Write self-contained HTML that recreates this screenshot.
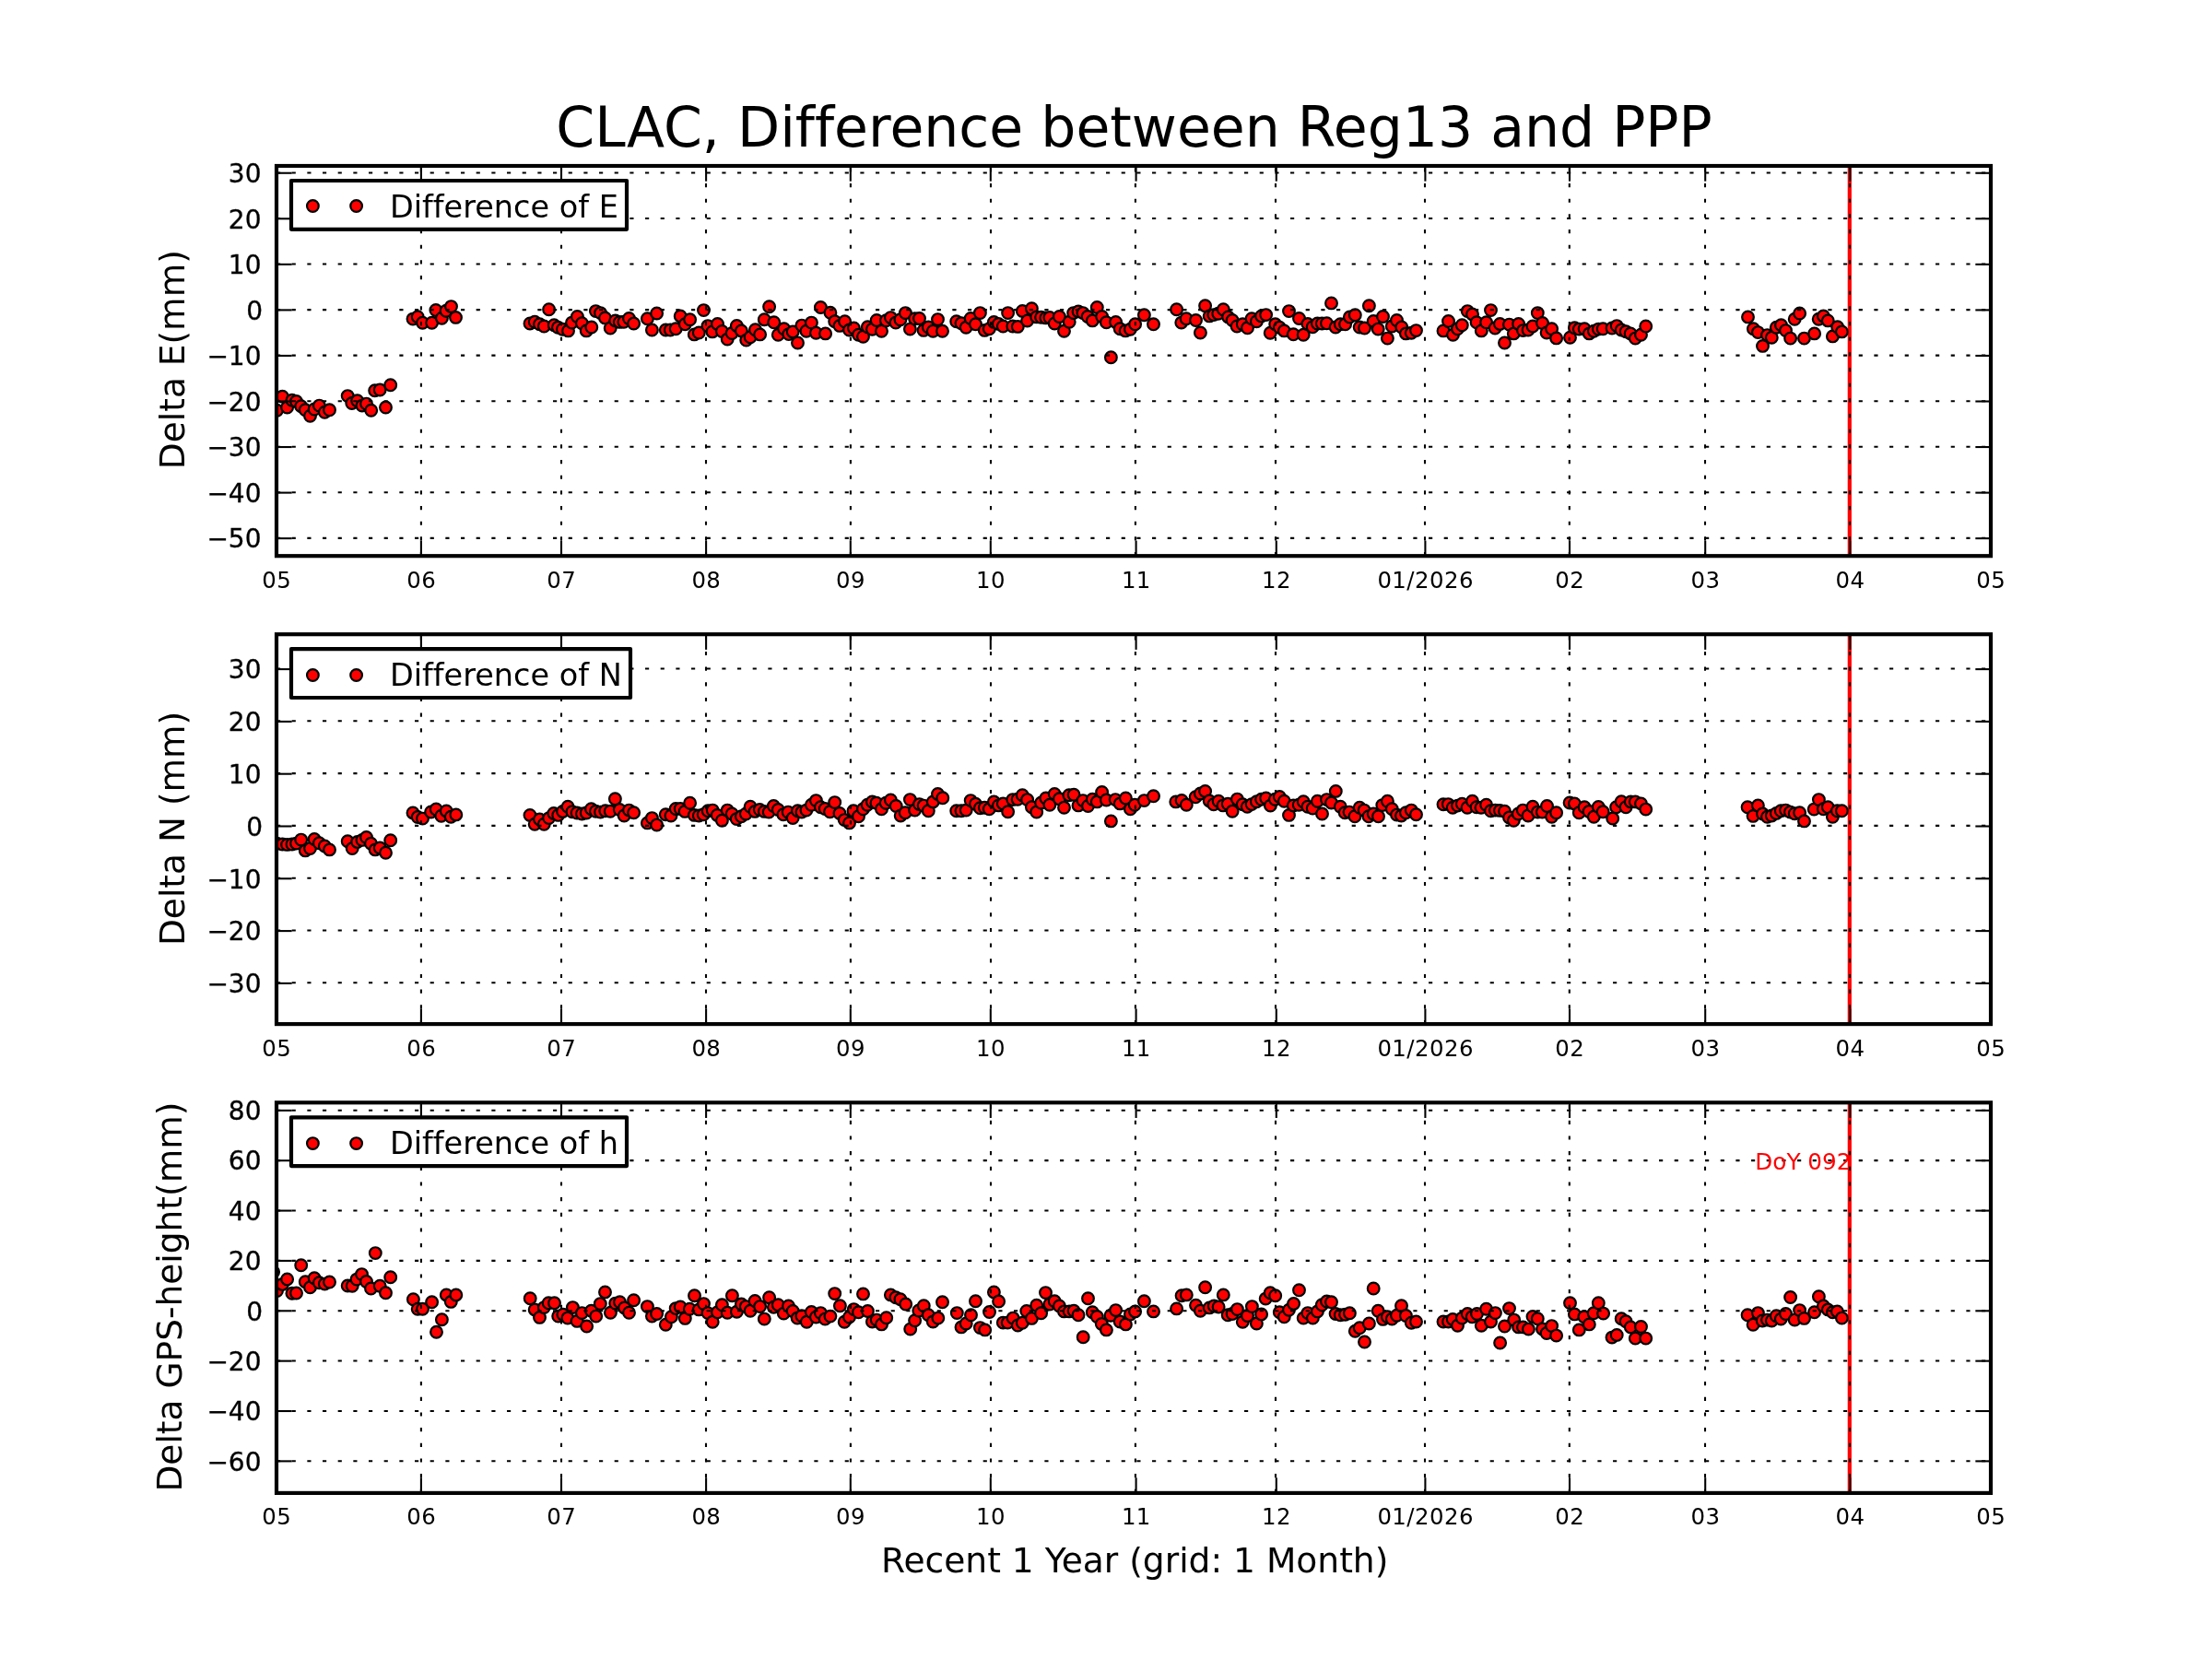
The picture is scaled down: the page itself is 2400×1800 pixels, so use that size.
<!DOCTYPE html>
<html lang="en"><head><meta charset="utf-8"><title>CLAC, Difference between Reg13 and PPP</title>
<style>html,body{margin:0;padding:0;background:#fff}svg{display:block;will-change:transform}text{font-variant-ligatures:none;font-feature-settings:"liga" 0,"clig" 0;font-kerning:normal}</style></head>
<body>
<svg width="2400" height="1800" viewBox="0 0 2400 1800" font-family="DejaVu Sans, Liberation Sans, sans-serif">
<rect width="2400" height="1800" fill="#fff"/>
<defs>
<clipPath id="c0"><rect x="300.0" y="180.0" width="1860.0" height="423.20"/></clipPath>
<clipPath id="c1"><rect x="300.0" y="688.2" width="1860.0" height="422.90"/></clipPath>
<clipPath id="c2"><rect x="300.0" y="1196.3" width="1860.0" height="423.60"/></clipPath>
</defs>
<g id="panel1">
<g clip-path="url(#c0)">
<line x1="2006.8" y1="180.0" x2="2006.8" y2="603.2" stroke="#f00" stroke-width="4.17"/>
<g fill="#f00" stroke="#000" stroke-width="2.20">
<circle cx="300.5" cy="445.3" r="6.35"/>
<circle cx="306.4" cy="430.2" r="6.35"/>
<circle cx="311.6" cy="442.0" r="6.35"/>
<circle cx="316.9" cy="434.2" r="6.35"/>
<circle cx="321.5" cy="435.5" r="6.35"/>
<circle cx="326.7" cy="440.7" r="6.35"/>
<circle cx="331.3" cy="444.7" r="6.35"/>
<circle cx="336.5" cy="451.2" r="6.35"/>
<circle cx="341.1" cy="444.0" r="6.35"/>
<circle cx="346.4" cy="440.1" r="6.35"/>
<circle cx="352.3" cy="447.3" r="6.35"/>
<circle cx="357.5" cy="444.7" r="6.35"/>
<circle cx="377.2" cy="429.6" r="6.35"/>
<circle cx="381.8" cy="437.5" r="6.35"/>
<circle cx="387.7" cy="434.8" r="6.35"/>
<circle cx="392.9" cy="440.1" r="6.35"/>
<circle cx="397.5" cy="438.1" r="6.35"/>
<circle cx="402.7" cy="445.3" r="6.35"/>
<circle cx="406.7" cy="423.7" r="6.35"/>
<circle cx="412.2" cy="423.0" r="6.35"/>
<circle cx="418.5" cy="442.0" r="6.35"/>
<circle cx="423.7" cy="417.8" r="6.35"/>
<circle cx="448.0" cy="346.1" r="6.35"/>
<circle cx="453.2" cy="343.7" r="6.35"/>
<circle cx="458.5" cy="350.3" r="6.35"/>
<circle cx="468.6" cy="350.3" r="6.35"/>
<circle cx="472.9" cy="336.5" r="6.35"/>
<circle cx="479.4" cy="345.3" r="6.35"/>
<circle cx="484.0" cy="337.2" r="6.35"/>
<circle cx="489.5" cy="332.6" r="6.35"/>
<circle cx="494.5" cy="344.4" r="6.35"/>
<circle cx="575.0" cy="351.0" r="6.35"/>
<circle cx="580.2" cy="349.2" r="6.35"/>
<circle cx="585.5" cy="351.8" r="6.35"/>
<circle cx="590.3" cy="354.0" r="6.35"/>
<circle cx="595.6" cy="335.7" r="6.35"/>
<circle cx="601.2" cy="352.7" r="6.35"/>
<circle cx="605.4" cy="355.3" r="6.35"/>
<circle cx="610.4" cy="357.3" r="6.35"/>
<circle cx="616.5" cy="358.9" r="6.35"/>
<circle cx="620.5" cy="350.1" r="6.35"/>
<circle cx="626.4" cy="343.5" r="6.35"/>
<circle cx="631.4" cy="350.8" r="6.35"/>
<circle cx="636.2" cy="358.9" r="6.35"/>
<circle cx="641.8" cy="355.0" r="6.35"/>
<circle cx="646.4" cy="337.6" r="6.35"/>
<circle cx="651.5" cy="339.6" r="6.35"/>
<circle cx="656.5" cy="344.9" r="6.35"/>
<circle cx="662.2" cy="356.0" r="6.35"/>
<circle cx="667.7" cy="347.9" r="6.35"/>
<circle cx="672.3" cy="349.4" r="6.35"/>
<circle cx="676.8" cy="349.2" r="6.35"/>
<circle cx="682.5" cy="345.5" r="6.35"/>
<circle cx="687.6" cy="351.0" r="6.35"/>
<circle cx="702.4" cy="345.8" r="6.35"/>
<circle cx="707.4" cy="358.0" r="6.35"/>
<circle cx="712.6" cy="340.0" r="6.35"/>
<circle cx="722.3" cy="358.0" r="6.35"/>
<circle cx="727.3" cy="358.0" r="6.35"/>
<circle cx="733.2" cy="356.7" r="6.35"/>
<circle cx="738.2" cy="342.9" r="6.35"/>
<circle cx="743.3" cy="351.8" r="6.35"/>
<circle cx="748.6" cy="346.8" r="6.35"/>
<circle cx="753.3" cy="362.9" r="6.35"/>
<circle cx="758.3" cy="361.0" r="6.35"/>
<circle cx="763.5" cy="336.6" r="6.35"/>
<circle cx="768.0" cy="353.6" r="6.35"/>
<circle cx="772.9" cy="359.9" r="6.35"/>
<circle cx="778.5" cy="351.4" r="6.35"/>
<circle cx="783.4" cy="359.5" r="6.35"/>
<circle cx="789.2" cy="368.1" r="6.35"/>
<circle cx="794.2" cy="361.5" r="6.35"/>
<circle cx="799.4" cy="353.4" r="6.35"/>
<circle cx="804.4" cy="358.9" r="6.35"/>
<circle cx="809.7" cy="369.1" r="6.35"/>
<circle cx="814.1" cy="365.8" r="6.35"/>
<circle cx="819.5" cy="357.7" r="6.35"/>
<circle cx="824.6" cy="362.9" r="6.35"/>
<circle cx="829.3" cy="346.8" r="6.35"/>
<circle cx="834.6" cy="332.8" r="6.35"/>
<circle cx="839.7" cy="349.7" r="6.35"/>
<circle cx="844.3" cy="363.2" r="6.35"/>
<circle cx="850.6" cy="356.7" r="6.35"/>
<circle cx="855.8" cy="362.6" r="6.35"/>
<circle cx="860.2" cy="359.9" r="6.35"/>
<circle cx="865.5" cy="372.0" r="6.35"/>
<circle cx="869.9" cy="353.1" r="6.35"/>
<circle cx="874.9" cy="359.3" r="6.35"/>
<circle cx="880.4" cy="350.1" r="6.35"/>
<circle cx="885.4" cy="361.2" r="6.35"/>
<circle cx="890.4" cy="333.5" r="6.35"/>
<circle cx="895.6" cy="361.9" r="6.35"/>
<circle cx="900.9" cy="339.2" r="6.35"/>
<circle cx="905.7" cy="348.8" r="6.35"/>
<circle cx="911.0" cy="353.4" r="6.35"/>
<circle cx="916.6" cy="348.8" r="6.35"/>
<circle cx="921.5" cy="358.0" r="6.35"/>
<circle cx="926.4" cy="356.0" r="6.35"/>
<circle cx="931.5" cy="363.2" r="6.35"/>
<circle cx="936.5" cy="365.2" r="6.35"/>
<circle cx="941.4" cy="354.7" r="6.35"/>
<circle cx="946.4" cy="357.3" r="6.35"/>
<circle cx="951.2" cy="347.5" r="6.35"/>
<circle cx="956.5" cy="359.3" r="6.35"/>
<circle cx="961.4" cy="347.7" r="6.35"/>
<circle cx="966.4" cy="344.6" r="6.35"/>
<circle cx="971.9" cy="350.1" r="6.35"/>
<circle cx="976.9" cy="346.8" r="6.35"/>
<circle cx="982.4" cy="339.6" r="6.35"/>
<circle cx="987.4" cy="357.1" r="6.35"/>
<circle cx="992.6" cy="345.8" r="6.35"/>
<circle cx="997.5" cy="345.5" r="6.35"/>
<circle cx="1002.1" cy="358.4" r="6.35"/>
<circle cx="1007.3" cy="355.0" r="6.35"/>
<circle cx="1012.3" cy="359.3" r="6.35"/>
<circle cx="1017.5" cy="346.6" r="6.35"/>
<circle cx="1022.5" cy="359.3" r="6.35"/>
<circle cx="1037.7" cy="348.8" r="6.35"/>
<circle cx="1043.0" cy="350.8" r="6.35"/>
<circle cx="1048.2" cy="355.3" r="6.35"/>
<circle cx="1053.2" cy="345.5" r="6.35"/>
<circle cx="1058.5" cy="351.8" r="6.35"/>
<circle cx="1063.4" cy="339.6" r="6.35"/>
<circle cx="1068.3" cy="358.4" r="6.35"/>
<circle cx="1073.3" cy="356.7" r="6.35"/>
<circle cx="1078.4" cy="349.4" r="6.35"/>
<circle cx="1083.4" cy="351.4" r="6.35"/>
<circle cx="1088.3" cy="354.0" r="6.35"/>
<circle cx="1093.6" cy="339.6" r="6.35"/>
<circle cx="1098.8" cy="354.0" r="6.35"/>
<circle cx="1104.3" cy="354.4" r="6.35"/>
<circle cx="1109.3" cy="337.4" r="6.35"/>
<circle cx="1114.6" cy="348.1" r="6.35"/>
<circle cx="1119.4" cy="334.8" r="6.35"/>
<circle cx="1124.7" cy="343.9" r="6.35"/>
<circle cx="1129.6" cy="344.2" r="6.35"/>
<circle cx="1134.8" cy="344.9" r="6.35"/>
<circle cx="1138.9" cy="344.5" r="6.35"/>
<circle cx="1144.2" cy="351.0" r="6.35"/>
<circle cx="1149.4" cy="343.5" r="6.35"/>
<circle cx="1154.5" cy="359.3" r="6.35"/>
<circle cx="1160.2" cy="349.2" r="6.35"/>
<circle cx="1164.7" cy="339.6" r="6.35"/>
<circle cx="1170.0" cy="337.9" r="6.35"/>
<circle cx="1175.0" cy="339.6" r="6.35"/>
<circle cx="1180.1" cy="343.5" r="6.35"/>
<circle cx="1185.3" cy="347.9" r="6.35"/>
<circle cx="1190.3" cy="333.5" r="6.35"/>
<circle cx="1195.6" cy="343.5" r="6.35"/>
<circle cx="1200.4" cy="349.8" r="6.35"/>
<circle cx="1205.4" cy="387.7" r="6.35"/>
<circle cx="1210.6" cy="349.4" r="6.35"/>
<circle cx="1215.2" cy="356.7" r="6.35"/>
<circle cx="1221.1" cy="358.9" r="6.35"/>
<circle cx="1226.4" cy="357.3" r="6.35"/>
<circle cx="1231.6" cy="351.8" r="6.35"/>
<circle cx="1241.4" cy="341.8" r="6.35"/>
<circle cx="1251.5" cy="351.8" r="6.35"/>
<circle cx="1276.6" cy="335.7" r="6.35"/>
<circle cx="1281.8" cy="350.1" r="6.35"/>
<circle cx="1287.1" cy="345.8" r="6.35"/>
<circle cx="1297.5" cy="347.5" r="6.35"/>
<circle cx="1302.4" cy="361.0" r="6.35"/>
<circle cx="1307.6" cy="331.7" r="6.35"/>
<circle cx="1312.2" cy="342.9" r="6.35"/>
<circle cx="1316.8" cy="341.6" r="6.35"/>
<circle cx="1321.7" cy="340.3" r="6.35"/>
<circle cx="1327.3" cy="335.7" r="6.35"/>
<circle cx="1332.6" cy="343.9" r="6.35"/>
<circle cx="1337.1" cy="347.5" r="6.35"/>
<circle cx="1342.1" cy="354.0" r="6.35"/>
<circle cx="1348.3" cy="351.8" r="6.35"/>
<circle cx="1353.5" cy="355.7" r="6.35"/>
<circle cx="1358.1" cy="345.8" r="6.35"/>
<circle cx="1363.4" cy="348.8" r="6.35"/>
<circle cx="1368.6" cy="342.9" r="6.35"/>
<circle cx="1373.6" cy="341.6" r="6.35"/>
<circle cx="1378.2" cy="361.2" r="6.35"/>
<circle cx="1383.7" cy="351.8" r="6.35"/>
<circle cx="1388.3" cy="355.3" r="6.35"/>
<circle cx="1393.3" cy="358.9" r="6.35"/>
<circle cx="1398.5" cy="337.6" r="6.35"/>
<circle cx="1403.3" cy="362.8" r="6.35"/>
<circle cx="1409.5" cy="345.5" r="6.35"/>
<circle cx="1414.2" cy="363.2" r="6.35"/>
<circle cx="1418.9" cy="351.4" r="6.35"/>
<circle cx="1424.2" cy="354.7" r="6.35"/>
<circle cx="1429.4" cy="351.0" r="6.35"/>
<circle cx="1434.3" cy="351.0" r="6.35"/>
<circle cx="1439.5" cy="350.8" r="6.35"/>
<circle cx="1444.5" cy="328.9" r="6.35"/>
<circle cx="1449.1" cy="355.0" r="6.35"/>
<circle cx="1454.3" cy="351.8" r="6.35"/>
<circle cx="1459.6" cy="351.8" r="6.35"/>
<circle cx="1464.4" cy="343.9" r="6.35"/>
<circle cx="1470.3" cy="341.8" r="6.35"/>
<circle cx="1475.2" cy="355.0" r="6.35"/>
<circle cx="1480.5" cy="356.0" r="6.35"/>
<circle cx="1485.4" cy="331.7" r="6.35"/>
<circle cx="1490.2" cy="348.4" r="6.35"/>
<circle cx="1495.2" cy="357.1" r="6.35"/>
<circle cx="1500.5" cy="343.5" r="6.35"/>
<circle cx="1505.4" cy="367.1" r="6.35"/>
<circle cx="1510.3" cy="354.0" r="6.35"/>
<circle cx="1515.5" cy="347.5" r="6.35"/>
<circle cx="1520.8" cy="355.0" r="6.35"/>
<circle cx="1525.4" cy="361.9" r="6.35"/>
<circle cx="1531.3" cy="361.2" r="6.35"/>
<circle cx="1536.5" cy="358.6" r="6.35"/>
<circle cx="1566.0" cy="358.9" r="6.35"/>
<circle cx="1571.5" cy="348.4" r="6.35"/>
<circle cx="1576.5" cy="363.2" r="6.35"/>
<circle cx="1581.5" cy="356.7" r="6.35"/>
<circle cx="1586.3" cy="352.7" r="6.35"/>
<circle cx="1592.2" cy="337.6" r="6.35"/>
<circle cx="1597.5" cy="340.9" r="6.35"/>
<circle cx="1602.1" cy="349.7" r="6.35"/>
<circle cx="1607.3" cy="358.9" r="6.35"/>
<circle cx="1612.6" cy="349.7" r="6.35"/>
<circle cx="1617.5" cy="336.6" r="6.35"/>
<circle cx="1622.1" cy="356.0" r="6.35"/>
<circle cx="1627.4" cy="351.4" r="6.35"/>
<circle cx="1632.5" cy="372.0" r="6.35"/>
<circle cx="1637.5" cy="352.1" r="6.35"/>
<circle cx="1642.3" cy="361.9" r="6.35"/>
<circle cx="1647.6" cy="351.4" r="6.35"/>
<circle cx="1652.5" cy="358.6" r="6.35"/>
<circle cx="1658.0" cy="358.0" r="6.35"/>
<circle cx="1663.0" cy="354.0" r="6.35"/>
<circle cx="1668.3" cy="339.6" r="6.35"/>
<circle cx="1673.5" cy="350.5" r="6.35"/>
<circle cx="1678.1" cy="361.0" r="6.35"/>
<circle cx="1683.6" cy="356.7" r="6.35"/>
<circle cx="1688.6" cy="366.9" r="6.35"/>
<circle cx="1703.5" cy="366.2" r="6.35"/>
<circle cx="1708.4" cy="355.7" r="6.35"/>
<circle cx="1713.3" cy="357.1" r="6.35"/>
<circle cx="1719.1" cy="356.7" r="6.35"/>
<circle cx="1724.3" cy="361.9" r="6.35"/>
<circle cx="1729.3" cy="359.3" r="6.35"/>
<circle cx="1734.3" cy="357.1" r="6.35"/>
<circle cx="1739.2" cy="356.7" r="6.35"/>
<circle cx="1749.0" cy="356.0" r="6.35"/>
<circle cx="1754.2" cy="353.6" r="6.35"/>
<circle cx="1759.2" cy="358.0" r="6.35"/>
<circle cx="1764.1" cy="359.7" r="6.35"/>
<circle cx="1769.1" cy="361.9" r="6.35"/>
<circle cx="1774.3" cy="367.1" r="6.35"/>
<circle cx="1780.5" cy="363.2" r="6.35"/>
<circle cx="1785.7" cy="354.0" r="6.35"/>
<circle cx="1896.5" cy="343.9" r="6.35"/>
<circle cx="1902.4" cy="356.7" r="6.35"/>
<circle cx="1907.4" cy="360.6" r="6.35"/>
<circle cx="1912.5" cy="375.4" r="6.35"/>
<circle cx="1917.5" cy="363.6" r="6.35"/>
<circle cx="1922.3" cy="366.2" r="6.35"/>
<circle cx="1927.3" cy="355.3" r="6.35"/>
<circle cx="1932.5" cy="352.7" r="6.35"/>
<circle cx="1937.5" cy="358.6" r="6.35"/>
<circle cx="1942.6" cy="367.1" r="6.35"/>
<circle cx="1947.2" cy="346.2" r="6.35"/>
<circle cx="1952.6" cy="340.0" r="6.35"/>
<circle cx="1957.5" cy="367.1" r="6.35"/>
<circle cx="1968.6" cy="361.9" r="6.35"/>
<circle cx="1973.2" cy="346.2" r="6.35"/>
<circle cx="1978.4" cy="342.9" r="6.35"/>
<circle cx="1983.3" cy="347.9" r="6.35"/>
<circle cx="1988.4" cy="364.9" r="6.35"/>
<circle cx="1993.7" cy="354.7" r="6.35"/>
<circle cx="1998.4" cy="359.9" r="6.35"/>
</g>
<g stroke="#000" stroke-width="2.08" stroke-dasharray="4.167 12.500" fill="none">
<line x1="300" y1="603.2" x2="300" y2="180.0"/>
<line x1="456.9" y1="603.2" x2="456.9" y2="180.0"/>
<line x1="609.0" y1="603.2" x2="609.0" y2="180.0"/>
<line x1="766.0" y1="603.2" x2="766.0" y2="180.0"/>
<line x1="922.9" y1="603.2" x2="922.9" y2="180.0"/>
<line x1="1075.0" y1="603.2" x2="1075.0" y2="180.0"/>
<line x1="1231.9" y1="603.2" x2="1231.9" y2="180.0"/>
<line x1="1384.0" y1="603.2" x2="1384.0" y2="180.0"/>
<line x1="1546.0" y1="603.2" x2="1546.0" y2="180.0"/>
<line x1="1702.8" y1="603.2" x2="1702.8" y2="180.0"/>
<line x1="1850.0" y1="603.2" x2="1850.0" y2="180.0"/>
<line x1="2007.0" y1="603.2" x2="2007.0" y2="180.0"/>
<line x1="2160" y1="603.2" x2="2160" y2="180.0"/>
<line x1="300.0" y1="187.45" x2="2160.0" y2="187.45"/>
<line x1="300.0" y1="237.00" x2="2160.0" y2="237.00"/>
<line x1="300.0" y1="286.55" x2="2160.0" y2="286.55"/>
<line x1="300.0" y1="336.10" x2="2160.0" y2="336.10"/>
<line x1="300.0" y1="385.65" x2="2160.0" y2="385.65"/>
<line x1="300.0" y1="435.20" x2="2160.0" y2="435.20"/>
<line x1="300.0" y1="484.75" x2="2160.0" y2="484.75"/>
<line x1="300.0" y1="534.30" x2="2160.0" y2="534.30"/>
<line x1="300.0" y1="583.85" x2="2160.0" y2="583.85"/>
</g>
</g>
<g stroke="#000" stroke-width="2.08">
<line x1="300" y1="603.2" x2="300" y2="586.53"/>
<line x1="300" y1="180.0" x2="300" y2="196.67"/>
<line x1="456.9" y1="603.2" x2="456.9" y2="586.53"/>
<line x1="456.9" y1="180.0" x2="456.9" y2="196.67"/>
<line x1="609.0" y1="603.2" x2="609.0" y2="586.53"/>
<line x1="609.0" y1="180.0" x2="609.0" y2="196.67"/>
<line x1="766.1" y1="603.2" x2="766.1" y2="586.53"/>
<line x1="766.1" y1="180.0" x2="766.1" y2="196.67"/>
<line x1="922.8" y1="603.2" x2="922.8" y2="586.53"/>
<line x1="922.8" y1="180.0" x2="922.8" y2="196.67"/>
<line x1="1074.8" y1="603.2" x2="1074.8" y2="586.53"/>
<line x1="1074.8" y1="180.0" x2="1074.8" y2="196.67"/>
<line x1="1232.6" y1="603.2" x2="1232.6" y2="586.53"/>
<line x1="1232.6" y1="180.0" x2="1232.6" y2="196.67"/>
<line x1="1384.8" y1="603.2" x2="1384.8" y2="586.53"/>
<line x1="1384.8" y1="180.0" x2="1384.8" y2="196.67"/>
<line x1="1546.4" y1="603.2" x2="1546.4" y2="586.53"/>
<line x1="1546.4" y1="180.0" x2="1546.4" y2="196.67"/>
<line x1="1703.0" y1="603.2" x2="1703.0" y2="586.53"/>
<line x1="1703.0" y1="180.0" x2="1703.0" y2="196.67"/>
<line x1="1850.2" y1="603.2" x2="1850.2" y2="586.53"/>
<line x1="1850.2" y1="180.0" x2="1850.2" y2="196.67"/>
<line x1="2007.3" y1="603.2" x2="2007.3" y2="586.53"/>
<line x1="2007.3" y1="180.0" x2="2007.3" y2="196.67"/>
<line x1="2160" y1="603.2" x2="2160" y2="586.53"/>
<line x1="2160" y1="180.0" x2="2160" y2="196.67"/>
<line x1="300.0" y1="187.75" x2="316.67" y2="187.75"/>
<line x1="2160.0" y1="187.75" x2="2143.33" y2="187.75"/>
<line x1="300.0" y1="237.30" x2="316.67" y2="237.30"/>
<line x1="2160.0" y1="237.30" x2="2143.33" y2="237.30"/>
<line x1="300.0" y1="286.85" x2="316.67" y2="286.85"/>
<line x1="2160.0" y1="286.85" x2="2143.33" y2="286.85"/>
<line x1="300.0" y1="336.40" x2="316.67" y2="336.40"/>
<line x1="2160.0" y1="336.40" x2="2143.33" y2="336.40"/>
<line x1="300.0" y1="385.95" x2="316.67" y2="385.95"/>
<line x1="2160.0" y1="385.95" x2="2143.33" y2="385.95"/>
<line x1="300.0" y1="435.50" x2="316.67" y2="435.50"/>
<line x1="2160.0" y1="435.50" x2="2143.33" y2="435.50"/>
<line x1="300.0" y1="485.05" x2="316.67" y2="485.05"/>
<line x1="2160.0" y1="485.05" x2="2143.33" y2="485.05"/>
<line x1="300.0" y1="534.60" x2="316.67" y2="534.60"/>
<line x1="2160.0" y1="534.60" x2="2143.33" y2="534.60"/>
<line x1="300.0" y1="584.15" x2="316.67" y2="584.15"/>
<line x1="2160.0" y1="584.15" x2="2143.33" y2="584.15"/>
</g>
<rect x="300.0" y="180.0" width="1860.0" height="423.20" fill="none" stroke="#000" stroke-width="4.17"/>
<g font-size="24.4" letter-spacing="0.45" text-anchor="middle" fill="#000">
<text x="300.25" y="638.0">05</text>
<text x="457.15" y="638.0">06</text>
<text x="609.25" y="638.0">07</text>
<text x="766.35" y="638.0">08</text>
<text x="923.05" y="638.0">09</text>
<text x="1075.05" y="638.0">10</text>
<text x="1232.85" y="638.0">11</text>
<text x="1385.05" y="638.0">12</text>
<text x="1546.65" y="638.0">01/2026</text>
<text x="1703.25" y="638.0">02</text>
<text x="1850.45" y="638.0">03</text>
<text x="2007.55" y="638.0">04</text>
<text x="2160.25" y="638.0">05</text>
</g>
<g font-size="28" text-anchor="end" fill="#000" stroke="#000" stroke-width="0.3">
<text x="283.5" y="197.9">30</text>
<text x="283.5" y="247.5">20</text>
<text x="283.5" y="297.0">10</text>
<text x="285.2" y="346.6">0</text>
<text x="283.5" y="396.1">−10</text>
<text x="283.5" y="445.7">−20</text>
<text x="283.5" y="495.2">−30</text>
<text x="283.5" y="544.8">−40</text>
<text x="283.5" y="594.4">−50</text>
</g>
<text font-size="37.5" text-anchor="middle" transform="translate(199.5,390.2) rotate(-90)">Delta E(mm)</text>
<rect x="316.0" y="196.0" width="364" height="52.8" fill="#fff" stroke="#000" stroke-width="4.17" stroke-linejoin="round"/>
<g fill="#f00" stroke="#000" stroke-width="2.20"><circle cx="339.4" cy="223.5" r="6.35"/><circle cx="386.6" cy="223.5" r="6.35"/></g>
<text font-size="33.5" x="422.9" y="236.0">Difference of E</text>
</g>
<g id="panel2">
<g clip-path="url(#c1)">
<line x1="2006.8" y1="688.2" x2="2006.8" y2="1111.1" stroke="#f00" stroke-width="4.17"/>
<g fill="#f00" stroke="#000" stroke-width="2.20">
<circle cx="300.5" cy="915.3" r="6.35"/>
<circle cx="306.4" cy="916.0" r="6.35"/>
<circle cx="311.6" cy="916.4" r="6.35"/>
<circle cx="316.9" cy="916.0" r="6.35"/>
<circle cx="321.5" cy="915.1" r="6.35"/>
<circle cx="326.7" cy="911.1" r="6.35"/>
<circle cx="331.3" cy="922.9" r="6.35"/>
<circle cx="336.5" cy="920.6" r="6.35"/>
<circle cx="341.1" cy="910.4" r="6.35"/>
<circle cx="346.4" cy="914.7" r="6.35"/>
<circle cx="352.3" cy="918.0" r="6.35"/>
<circle cx="357.5" cy="921.9" r="6.35"/>
<circle cx="377.2" cy="912.7" r="6.35"/>
<circle cx="382.2" cy="920.6" r="6.35"/>
<circle cx="387.7" cy="913.4" r="6.35"/>
<circle cx="392.9" cy="911.4" r="6.35"/>
<circle cx="397.5" cy="908.5" r="6.35"/>
<circle cx="402.5" cy="915.3" r="6.35"/>
<circle cx="407.1" cy="921.9" r="6.35"/>
<circle cx="412.2" cy="919.9" r="6.35"/>
<circle cx="418.5" cy="925.2" r="6.35"/>
<circle cx="423.7" cy="911.8" r="6.35"/>
<circle cx="448.0" cy="881.9" r="6.35"/>
<circle cx="453.2" cy="886.5" r="6.35"/>
<circle cx="458.5" cy="888.1" r="6.35"/>
<circle cx="467.6" cy="881.0" r="6.35"/>
<circle cx="473.2" cy="878.0" r="6.35"/>
<circle cx="478.8" cy="885.2" r="6.35"/>
<circle cx="484.3" cy="879.9" r="6.35"/>
<circle cx="489.3" cy="886.2" r="6.35"/>
<circle cx="494.8" cy="883.9" r="6.35"/>
<circle cx="575.0" cy="884.4" r="6.35"/>
<circle cx="580.2" cy="894.2" r="6.35"/>
<circle cx="585.5" cy="888.9" r="6.35"/>
<circle cx="590.3" cy="894.2" r="6.35"/>
<circle cx="595.6" cy="887.6" r="6.35"/>
<circle cx="600.8" cy="882.4" r="6.35"/>
<circle cx="605.7" cy="884.4" r="6.35"/>
<circle cx="610.6" cy="880.4" r="6.35"/>
<circle cx="616.1" cy="875.2" r="6.35"/>
<circle cx="620.9" cy="880.7" r="6.35"/>
<circle cx="626.1" cy="882.0" r="6.35"/>
<circle cx="631.4" cy="883.0" r="6.35"/>
<circle cx="636.2" cy="882.0" r="6.35"/>
<circle cx="641.5" cy="877.8" r="6.35"/>
<circle cx="646.4" cy="880.2" r="6.35"/>
<circle cx="651.5" cy="881.1" r="6.35"/>
<circle cx="656.8" cy="879.8" r="6.35"/>
<circle cx="662.2" cy="880.2" r="6.35"/>
<circle cx="667.4" cy="866.7" r="6.35"/>
<circle cx="672.3" cy="878.5" r="6.35"/>
<circle cx="677.2" cy="885.0" r="6.35"/>
<circle cx="682.5" cy="879.1" r="6.35"/>
<circle cx="687.6" cy="881.7" r="6.35"/>
<circle cx="702.4" cy="892.9" r="6.35"/>
<circle cx="707.4" cy="887.6" r="6.35"/>
<circle cx="712.6" cy="895.1" r="6.35"/>
<circle cx="722.3" cy="883.7" r="6.35"/>
<circle cx="728.0" cy="885.0" r="6.35"/>
<circle cx="733.2" cy="877.5" r="6.35"/>
<circle cx="738.2" cy="877.5" r="6.35"/>
<circle cx="743.1" cy="880.4" r="6.35"/>
<circle cx="748.6" cy="871.2" r="6.35"/>
<circle cx="753.3" cy="884.4" r="6.35"/>
<circle cx="758.3" cy="885.0" r="6.35"/>
<circle cx="763.2" cy="883.7" r="6.35"/>
<circle cx="768.2" cy="879.8" r="6.35"/>
<circle cx="773.2" cy="879.1" r="6.35"/>
<circle cx="778.2" cy="884.4" r="6.35"/>
<circle cx="783.4" cy="890.3" r="6.35"/>
<circle cx="789.2" cy="879.1" r="6.35"/>
<circle cx="794.2" cy="883.0" r="6.35"/>
<circle cx="799.2" cy="888.6" r="6.35"/>
<circle cx="804.4" cy="885.7" r="6.35"/>
<circle cx="809.3" cy="883.0" r="6.35"/>
<circle cx="814.1" cy="875.2" r="6.35"/>
<circle cx="819.1" cy="880.4" r="6.35"/>
<circle cx="824.3" cy="878.5" r="6.35"/>
<circle cx="829.3" cy="880.4" r="6.35"/>
<circle cx="834.2" cy="881.1" r="6.35"/>
<circle cx="839.4" cy="874.5" r="6.35"/>
<circle cx="844.3" cy="878.5" r="6.35"/>
<circle cx="849.9" cy="883.7" r="6.35"/>
<circle cx="855.1" cy="881.1" r="6.35"/>
<circle cx="860.2" cy="887.6" r="6.35"/>
<circle cx="865.5" cy="879.8" r="6.35"/>
<circle cx="869.9" cy="881.1" r="6.35"/>
<circle cx="874.9" cy="879.1" r="6.35"/>
<circle cx="880.4" cy="873.2" r="6.35"/>
<circle cx="885.4" cy="868.6" r="6.35"/>
<circle cx="890.4" cy="875.8" r="6.35"/>
<circle cx="895.2" cy="877.5" r="6.35"/>
<circle cx="900.5" cy="880.7" r="6.35"/>
<circle cx="905.7" cy="870.6" r="6.35"/>
<circle cx="911.0" cy="882.4" r="6.35"/>
<circle cx="916.2" cy="889.6" r="6.35"/>
<circle cx="921.5" cy="892.9" r="6.35"/>
<circle cx="926.0" cy="879.8" r="6.35"/>
<circle cx="931.5" cy="885.7" r="6.35"/>
<circle cx="936.5" cy="877.8" r="6.35"/>
<circle cx="941.1" cy="873.2" r="6.35"/>
<circle cx="946.4" cy="869.9" r="6.35"/>
<circle cx="950.9" cy="871.2" r="6.35"/>
<circle cx="956.5" cy="877.8" r="6.35"/>
<circle cx="961.2" cy="871.2" r="6.35"/>
<circle cx="966.4" cy="868.0" r="6.35"/>
<circle cx="972.2" cy="874.5" r="6.35"/>
<circle cx="977.2" cy="885.0" r="6.35"/>
<circle cx="982.2" cy="881.7" r="6.35"/>
<circle cx="987.4" cy="867.6" r="6.35"/>
<circle cx="992.6" cy="879.1" r="6.35"/>
<circle cx="997.5" cy="872.6" r="6.35"/>
<circle cx="1002.1" cy="874.1" r="6.35"/>
<circle cx="1007.3" cy="879.8" r="6.35"/>
<circle cx="1012.3" cy="869.9" r="6.35"/>
<circle cx="1017.5" cy="861.4" r="6.35"/>
<circle cx="1022.8" cy="865.7" r="6.35"/>
<circle cx="1037.7" cy="879.8" r="6.35"/>
<circle cx="1043.0" cy="879.8" r="6.35"/>
<circle cx="1048.2" cy="879.1" r="6.35"/>
<circle cx="1053.2" cy="868.6" r="6.35"/>
<circle cx="1058.5" cy="872.3" r="6.35"/>
<circle cx="1063.4" cy="876.8" r="6.35"/>
<circle cx="1068.3" cy="876.2" r="6.35"/>
<circle cx="1073.3" cy="877.8" r="6.35"/>
<circle cx="1078.4" cy="869.9" r="6.35"/>
<circle cx="1083.4" cy="873.9" r="6.35"/>
<circle cx="1088.3" cy="871.9" r="6.35"/>
<circle cx="1093.6" cy="880.7" r="6.35"/>
<circle cx="1098.8" cy="867.6" r="6.35"/>
<circle cx="1104.1" cy="867.3" r="6.35"/>
<circle cx="1109.3" cy="862.7" r="6.35"/>
<circle cx="1114.6" cy="867.6" r="6.35"/>
<circle cx="1119.4" cy="875.8" r="6.35"/>
<circle cx="1124.7" cy="881.1" r="6.35"/>
<circle cx="1129.6" cy="871.0" r="6.35"/>
<circle cx="1134.8" cy="866.0" r="6.35"/>
<circle cx="1138.9" cy="873.2" r="6.35"/>
<circle cx="1144.2" cy="861.4" r="6.35"/>
<circle cx="1149.4" cy="866.7" r="6.35"/>
<circle cx="1154.5" cy="876.2" r="6.35"/>
<circle cx="1159.9" cy="862.7" r="6.35"/>
<circle cx="1165.1" cy="862.3" r="6.35"/>
<circle cx="1170.0" cy="873.9" r="6.35"/>
<circle cx="1175.0" cy="868.6" r="6.35"/>
<circle cx="1180.5" cy="874.5" r="6.35"/>
<circle cx="1185.3" cy="867.3" r="6.35"/>
<circle cx="1190.3" cy="869.9" r="6.35"/>
<circle cx="1195.6" cy="859.4" r="6.35"/>
<circle cx="1200.4" cy="868.0" r="6.35"/>
<circle cx="1205.4" cy="890.9" r="6.35"/>
<circle cx="1210.2" cy="867.6" r="6.35"/>
<circle cx="1215.2" cy="871.9" r="6.35"/>
<circle cx="1221.4" cy="866.0" r="6.35"/>
<circle cx="1226.4" cy="877.8" r="6.35"/>
<circle cx="1231.2" cy="873.2" r="6.35"/>
<circle cx="1241.4" cy="868.6" r="6.35"/>
<circle cx="1251.5" cy="863.8" r="6.35"/>
<circle cx="1275.8" cy="869.9" r="6.35"/>
<circle cx="1282.1" cy="868.4" r="6.35"/>
<circle cx="1287.3" cy="873.2" r="6.35"/>
<circle cx="1297.2" cy="864.7" r="6.35"/>
<circle cx="1302.4" cy="861.0" r="6.35"/>
<circle cx="1307.6" cy="858.4" r="6.35"/>
<circle cx="1312.2" cy="868.9" r="6.35"/>
<circle cx="1316.8" cy="872.8" r="6.35"/>
<circle cx="1322.1" cy="869.3" r="6.35"/>
<circle cx="1327.0" cy="873.9" r="6.35"/>
<circle cx="1332.2" cy="872.3" r="6.35"/>
<circle cx="1337.1" cy="880.2" r="6.35"/>
<circle cx="1342.4" cy="867.1" r="6.35"/>
<circle cx="1348.3" cy="872.8" r="6.35"/>
<circle cx="1353.3" cy="875.2" r="6.35"/>
<circle cx="1358.1" cy="872.6" r="6.35"/>
<circle cx="1363.4" cy="869.7" r="6.35"/>
<circle cx="1368.6" cy="867.3" r="6.35"/>
<circle cx="1373.6" cy="866.0" r="6.35"/>
<circle cx="1378.4" cy="874.1" r="6.35"/>
<circle cx="1383.4" cy="867.3" r="6.35"/>
<circle cx="1388.3" cy="864.4" r="6.35"/>
<circle cx="1393.3" cy="869.3" r="6.35"/>
<circle cx="1398.5" cy="884.4" r="6.35"/>
<circle cx="1403.3" cy="873.9" r="6.35"/>
<circle cx="1409.2" cy="873.2" r="6.35"/>
<circle cx="1414.2" cy="869.7" r="6.35"/>
<circle cx="1418.9" cy="875.2" r="6.35"/>
<circle cx="1424.2" cy="877.1" r="6.35"/>
<circle cx="1429.4" cy="869.3" r="6.35"/>
<circle cx="1434.5" cy="883.0" r="6.35"/>
<circle cx="1439.5" cy="867.6" r="6.35"/>
<circle cx="1444.5" cy="871.0" r="6.35"/>
<circle cx="1449.3" cy="858.4" r="6.35"/>
<circle cx="1454.3" cy="875.2" r="6.35"/>
<circle cx="1459.2" cy="881.7" r="6.35"/>
<circle cx="1464.0" cy="881.1" r="6.35"/>
<circle cx="1470.0" cy="885.7" r="6.35"/>
<circle cx="1475.2" cy="876.2" r="6.35"/>
<circle cx="1480.1" cy="879.1" r="6.35"/>
<circle cx="1485.0" cy="885.7" r="6.35"/>
<circle cx="1490.2" cy="883.0" r="6.35"/>
<circle cx="1495.5" cy="885.7" r="6.35"/>
<circle cx="1499.8" cy="873.6" r="6.35"/>
<circle cx="1505.4" cy="869.3" r="6.35"/>
<circle cx="1510.3" cy="877.8" r="6.35"/>
<circle cx="1515.5" cy="884.1" r="6.35"/>
<circle cx="1520.5" cy="885.0" r="6.35"/>
<circle cx="1525.4" cy="881.7" r="6.35"/>
<circle cx="1531.3" cy="879.1" r="6.35"/>
<circle cx="1536.5" cy="883.7" r="6.35"/>
<circle cx="1566.0" cy="872.8" r="6.35"/>
<circle cx="1571.3" cy="872.6" r="6.35"/>
<circle cx="1576.2" cy="876.2" r="6.35"/>
<circle cx="1581.5" cy="874.1" r="6.35"/>
<circle cx="1586.3" cy="872.3" r="6.35"/>
<circle cx="1592.0" cy="876.2" r="6.35"/>
<circle cx="1597.5" cy="869.3" r="6.35"/>
<circle cx="1602.1" cy="875.8" r="6.35"/>
<circle cx="1607.0" cy="876.2" r="6.35"/>
<circle cx="1612.6" cy="873.2" r="6.35"/>
<circle cx="1617.5" cy="879.8" r="6.35"/>
<circle cx="1622.4" cy="879.1" r="6.35"/>
<circle cx="1627.4" cy="879.4" r="6.35"/>
<circle cx="1632.5" cy="880.2" r="6.35"/>
<circle cx="1637.5" cy="887.0" r="6.35"/>
<circle cx="1642.3" cy="890.3" r="6.35"/>
<circle cx="1647.3" cy="883.0" r="6.35"/>
<circle cx="1652.3" cy="879.1" r="6.35"/>
<circle cx="1658.0" cy="885.0" r="6.35"/>
<circle cx="1663.0" cy="875.2" r="6.35"/>
<circle cx="1668.3" cy="881.1" r="6.35"/>
<circle cx="1673.3" cy="881.1" r="6.35"/>
<circle cx="1678.5" cy="874.5" r="6.35"/>
<circle cx="1683.6" cy="886.3" r="6.35"/>
<circle cx="1688.6" cy="881.7" r="6.35"/>
<circle cx="1703.1" cy="871.0" r="6.35"/>
<circle cx="1708.4" cy="871.9" r="6.35"/>
<circle cx="1713.3" cy="881.7" r="6.35"/>
<circle cx="1719.1" cy="875.8" r="6.35"/>
<circle cx="1724.1" cy="880.4" r="6.35"/>
<circle cx="1729.3" cy="886.3" r="6.35"/>
<circle cx="1734.3" cy="875.4" r="6.35"/>
<circle cx="1739.2" cy="880.7" r="6.35"/>
<circle cx="1749.7" cy="888.0" r="6.35"/>
<circle cx="1753.6" cy="875.8" r="6.35"/>
<circle cx="1759.2" cy="869.7" r="6.35"/>
<circle cx="1764.1" cy="875.8" r="6.35"/>
<circle cx="1769.3" cy="869.9" r="6.35"/>
<circle cx="1774.3" cy="869.9" r="6.35"/>
<circle cx="1780.5" cy="871.9" r="6.35"/>
<circle cx="1785.7" cy="878.1" r="6.35"/>
<circle cx="1896.1" cy="875.8" r="6.35"/>
<circle cx="1902.1" cy="885.4" r="6.35"/>
<circle cx="1907.4" cy="873.9" r="6.35"/>
<circle cx="1912.5" cy="883.0" r="6.35"/>
<circle cx="1917.5" cy="886.3" r="6.35"/>
<circle cx="1922.3" cy="885.0" r="6.35"/>
<circle cx="1927.3" cy="882.4" r="6.35"/>
<circle cx="1932.3" cy="879.8" r="6.35"/>
<circle cx="1937.5" cy="879.1" r="6.35"/>
<circle cx="1942.4" cy="881.1" r="6.35"/>
<circle cx="1947.2" cy="882.8" r="6.35"/>
<circle cx="1952.6" cy="881.7" r="6.35"/>
<circle cx="1957.5" cy="890.9" r="6.35"/>
<circle cx="1968.2" cy="878.1" r="6.35"/>
<circle cx="1973.4" cy="867.6" r="6.35"/>
<circle cx="1978.4" cy="877.8" r="6.35"/>
<circle cx="1983.3" cy="875.8" r="6.35"/>
<circle cx="1988.4" cy="886.3" r="6.35"/>
<circle cx="1993.4" cy="879.8" r="6.35"/>
<circle cx="1998.4" cy="879.8" r="6.35"/>
</g>
<g stroke="#000" stroke-width="2.08" stroke-dasharray="4.167 12.500" fill="none">
<line x1="300" y1="1111.1" x2="300" y2="688.2"/>
<line x1="456.9" y1="1111.1" x2="456.9" y2="688.2"/>
<line x1="609.0" y1="1111.1" x2="609.0" y2="688.2"/>
<line x1="766.0" y1="1111.1" x2="766.0" y2="688.2"/>
<line x1="922.9" y1="1111.1" x2="922.9" y2="688.2"/>
<line x1="1075.0" y1="1111.1" x2="1075.0" y2="688.2"/>
<line x1="1231.9" y1="1111.1" x2="1231.9" y2="688.2"/>
<line x1="1384.0" y1="1111.1" x2="1384.0" y2="688.2"/>
<line x1="1546.0" y1="1111.1" x2="1546.0" y2="688.2"/>
<line x1="1702.8" y1="1111.1" x2="1702.8" y2="688.2"/>
<line x1="1850.0" y1="1111.1" x2="1850.0" y2="688.2"/>
<line x1="2007.0" y1="1111.1" x2="2007.0" y2="688.2"/>
<line x1="2160" y1="1111.1" x2="2160" y2="688.2"/>
<line x1="300.0" y1="725.50" x2="2160.0" y2="725.50"/>
<line x1="300.0" y1="782.30" x2="2160.0" y2="782.30"/>
<line x1="300.0" y1="839.10" x2="2160.0" y2="839.10"/>
<line x1="300.0" y1="895.90" x2="2160.0" y2="895.90"/>
<line x1="300.0" y1="952.70" x2="2160.0" y2="952.70"/>
<line x1="300.0" y1="1009.50" x2="2160.0" y2="1009.50"/>
<line x1="300.0" y1="1066.30" x2="2160.0" y2="1066.30"/>
</g>
</g>
<g stroke="#000" stroke-width="2.08">
<line x1="300" y1="1111.1" x2="300" y2="1094.43"/>
<line x1="300" y1="688.2" x2="300" y2="704.87"/>
<line x1="456.9" y1="1111.1" x2="456.9" y2="1094.43"/>
<line x1="456.9" y1="688.2" x2="456.9" y2="704.87"/>
<line x1="609.0" y1="1111.1" x2="609.0" y2="1094.43"/>
<line x1="609.0" y1="688.2" x2="609.0" y2="704.87"/>
<line x1="766.1" y1="1111.1" x2="766.1" y2="1094.43"/>
<line x1="766.1" y1="688.2" x2="766.1" y2="704.87"/>
<line x1="922.8" y1="1111.1" x2="922.8" y2="1094.43"/>
<line x1="922.8" y1="688.2" x2="922.8" y2="704.87"/>
<line x1="1074.8" y1="1111.1" x2="1074.8" y2="1094.43"/>
<line x1="1074.8" y1="688.2" x2="1074.8" y2="704.87"/>
<line x1="1232.6" y1="1111.1" x2="1232.6" y2="1094.43"/>
<line x1="1232.6" y1="688.2" x2="1232.6" y2="704.87"/>
<line x1="1384.8" y1="1111.1" x2="1384.8" y2="1094.43"/>
<line x1="1384.8" y1="688.2" x2="1384.8" y2="704.87"/>
<line x1="1546.4" y1="1111.1" x2="1546.4" y2="1094.43"/>
<line x1="1546.4" y1="688.2" x2="1546.4" y2="704.87"/>
<line x1="1703.0" y1="1111.1" x2="1703.0" y2="1094.43"/>
<line x1="1703.0" y1="688.2" x2="1703.0" y2="704.87"/>
<line x1="1850.2" y1="1111.1" x2="1850.2" y2="1094.43"/>
<line x1="1850.2" y1="688.2" x2="1850.2" y2="704.87"/>
<line x1="2007.3" y1="1111.1" x2="2007.3" y2="1094.43"/>
<line x1="2007.3" y1="688.2" x2="2007.3" y2="704.87"/>
<line x1="2160" y1="1111.1" x2="2160" y2="1094.43"/>
<line x1="2160" y1="688.2" x2="2160" y2="704.87"/>
<line x1="300.0" y1="726.10" x2="316.67" y2="726.10"/>
<line x1="2160.0" y1="726.10" x2="2143.33" y2="726.10"/>
<line x1="300.0" y1="782.90" x2="316.67" y2="782.90"/>
<line x1="2160.0" y1="782.90" x2="2143.33" y2="782.90"/>
<line x1="300.0" y1="839.70" x2="316.67" y2="839.70"/>
<line x1="2160.0" y1="839.70" x2="2143.33" y2="839.70"/>
<line x1="300.0" y1="896.50" x2="316.67" y2="896.50"/>
<line x1="2160.0" y1="896.50" x2="2143.33" y2="896.50"/>
<line x1="300.0" y1="953.30" x2="316.67" y2="953.30"/>
<line x1="2160.0" y1="953.30" x2="2143.33" y2="953.30"/>
<line x1="300.0" y1="1010.10" x2="316.67" y2="1010.10"/>
<line x1="2160.0" y1="1010.10" x2="2143.33" y2="1010.10"/>
<line x1="300.0" y1="1066.90" x2="316.67" y2="1066.90"/>
<line x1="2160.0" y1="1066.90" x2="2143.33" y2="1066.90"/>
</g>
<rect x="300.0" y="688.2" width="1860.0" height="422.90" fill="none" stroke="#000" stroke-width="4.17"/>
<g font-size="24.4" letter-spacing="0.45" text-anchor="middle" fill="#000">
<text x="300.25" y="1145.9">05</text>
<text x="457.15" y="1145.9">06</text>
<text x="609.25" y="1145.9">07</text>
<text x="766.35" y="1145.9">08</text>
<text x="923.05" y="1145.9">09</text>
<text x="1075.05" y="1145.9">10</text>
<text x="1232.85" y="1145.9">11</text>
<text x="1385.05" y="1145.9">12</text>
<text x="1546.65" y="1145.9">01/2026</text>
<text x="1703.25" y="1145.9">02</text>
<text x="1850.45" y="1145.9">03</text>
<text x="2007.55" y="1145.9">04</text>
<text x="2160.25" y="1145.9">05</text>
</g>
<g font-size="28" text-anchor="end" fill="#000" stroke="#000" stroke-width="0.3">
<text x="283.5" y="736.3">30</text>
<text x="283.5" y="793.1">20</text>
<text x="283.5" y="849.9">10</text>
<text x="285.2" y="906.7">0</text>
<text x="283.5" y="963.5">−10</text>
<text x="283.5" y="1020.3">−20</text>
<text x="283.5" y="1077.1">−30</text>
</g>
<text font-size="37.5" text-anchor="middle" transform="translate(199.6,898.9) rotate(-90)">Delta N (mm)</text>
<rect x="316.0" y="704.2" width="368" height="52.8" fill="#fff" stroke="#000" stroke-width="4.17" stroke-linejoin="round"/>
<g fill="#f00" stroke="#000" stroke-width="2.20"><circle cx="339.4" cy="732.5" r="6.35"/><circle cx="386.6" cy="732.5" r="6.35"/></g>
<text font-size="33.5" x="422.9" y="744.2">Difference of N</text>
</g>
<g id="panel3">
<g clip-path="url(#c2)">
<line x1="2006.8" y1="1196.3" x2="2006.8" y2="1619.9" stroke="#f00" stroke-width="4.17"/>
<g fill="#f00" stroke="#000" stroke-width="2.20">
<circle cx="296.6" cy="1380.0" r="6.35"/>
<circle cx="300.5" cy="1400.6" r="6.35"/>
<circle cx="306.4" cy="1393.4" r="6.35"/>
<circle cx="311.6" cy="1387.9" r="6.35"/>
<circle cx="316.9" cy="1403.2" r="6.35"/>
<circle cx="321.5" cy="1403.0" r="6.35"/>
<circle cx="326.7" cy="1372.8" r="6.35"/>
<circle cx="331.3" cy="1390.8" r="6.35"/>
<circle cx="336.5" cy="1396.7" r="6.35"/>
<circle cx="341.1" cy="1386.8" r="6.35"/>
<circle cx="346.4" cy="1391.8" r="6.35"/>
<circle cx="352.3" cy="1393.1" r="6.35"/>
<circle cx="357.5" cy="1391.0" r="6.35"/>
<circle cx="377.2" cy="1395.0" r="6.35"/>
<circle cx="382.2" cy="1395.3" r="6.35"/>
<circle cx="387.0" cy="1388.1" r="6.35"/>
<circle cx="392.5" cy="1382.6" r="6.35"/>
<circle cx="397.5" cy="1390.5" r="6.35"/>
<circle cx="402.5" cy="1398.0" r="6.35"/>
<circle cx="407.3" cy="1359.6" r="6.35"/>
<circle cx="412.2" cy="1395.3" r="6.35"/>
<circle cx="418.5" cy="1402.8" r="6.35"/>
<circle cx="423.7" cy="1385.8" r="6.35"/>
<circle cx="448.4" cy="1409.8" r="6.35"/>
<circle cx="453.2" cy="1420.3" r="6.35"/>
<circle cx="458.5" cy="1420.3" r="6.35"/>
<circle cx="468.6" cy="1412.8" r="6.35"/>
<circle cx="473.5" cy="1445.2" r="6.35"/>
<circle cx="479.4" cy="1431.7" r="6.35"/>
<circle cx="484.3" cy="1404.9" r="6.35"/>
<circle cx="489.3" cy="1412.4" r="6.35"/>
<circle cx="494.8" cy="1404.9" r="6.35"/>
<circle cx="575.2" cy="1408.8" r="6.35"/>
<circle cx="580.2" cy="1420.9" r="6.35"/>
<circle cx="585.5" cy="1429.4" r="6.35"/>
<circle cx="590.3" cy="1418.6" r="6.35"/>
<circle cx="595.2" cy="1413.7" r="6.35"/>
<circle cx="601.5" cy="1413.7" r="6.35"/>
<circle cx="605.7" cy="1428.1" r="6.35"/>
<circle cx="610.9" cy="1426.2" r="6.35"/>
<circle cx="615.9" cy="1430.1" r="6.35"/>
<circle cx="621.4" cy="1418.6" r="6.35"/>
<circle cx="626.1" cy="1433.4" r="6.35"/>
<circle cx="631.4" cy="1424.6" r="6.35"/>
<circle cx="636.6" cy="1439.0" r="6.35"/>
<circle cx="641.5" cy="1422.2" r="6.35"/>
<circle cx="646.7" cy="1428.1" r="6.35"/>
<circle cx="651.3" cy="1414.6" r="6.35"/>
<circle cx="656.5" cy="1401.9" r="6.35"/>
<circle cx="662.4" cy="1424.2" r="6.35"/>
<circle cx="667.7" cy="1414.1" r="6.35"/>
<circle cx="672.5" cy="1412.8" r="6.35"/>
<circle cx="677.5" cy="1418.9" r="6.35"/>
<circle cx="682.5" cy="1424.2" r="6.35"/>
<circle cx="687.6" cy="1410.7" r="6.35"/>
<circle cx="702.4" cy="1417.6" r="6.35"/>
<circle cx="707.4" cy="1428.1" r="6.35"/>
<circle cx="712.6" cy="1425.5" r="6.35"/>
<circle cx="722.3" cy="1437.3" r="6.35"/>
<circle cx="728.4" cy="1428.8" r="6.35"/>
<circle cx="733.2" cy="1419.6" r="6.35"/>
<circle cx="738.2" cy="1418.0" r="6.35"/>
<circle cx="743.3" cy="1430.4" r="6.35"/>
<circle cx="748.3" cy="1420.3" r="6.35"/>
<circle cx="753.5" cy="1405.8" r="6.35"/>
<circle cx="758.3" cy="1420.9" r="6.35"/>
<circle cx="763.5" cy="1414.6" r="6.35"/>
<circle cx="768.0" cy="1424.6" r="6.35"/>
<circle cx="773.2" cy="1434.3" r="6.35"/>
<circle cx="778.5" cy="1423.8" r="6.35"/>
<circle cx="783.4" cy="1415.7" r="6.35"/>
<circle cx="789.2" cy="1424.2" r="6.35"/>
<circle cx="794.4" cy="1405.8" r="6.35"/>
<circle cx="799.4" cy="1423.3" r="6.35"/>
<circle cx="804.4" cy="1415.0" r="6.35"/>
<circle cx="809.3" cy="1417.6" r="6.35"/>
<circle cx="814.1" cy="1422.2" r="6.35"/>
<circle cx="819.1" cy="1411.5" r="6.35"/>
<circle cx="824.6" cy="1417.6" r="6.35"/>
<circle cx="829.3" cy="1431.1" r="6.35"/>
<circle cx="834.6" cy="1407.8" r="6.35"/>
<circle cx="839.4" cy="1418.3" r="6.35"/>
<circle cx="844.3" cy="1415.7" r="6.35"/>
<circle cx="850.3" cy="1425.1" r="6.35"/>
<circle cx="855.5" cy="1417.0" r="6.35"/>
<circle cx="860.2" cy="1422.5" r="6.35"/>
<circle cx="865.1" cy="1430.1" r="6.35"/>
<circle cx="869.9" cy="1427.7" r="6.35"/>
<circle cx="875.3" cy="1434.3" r="6.35"/>
<circle cx="880.4" cy="1423.5" r="6.35"/>
<circle cx="885.4" cy="1429.0" r="6.35"/>
<circle cx="890.4" cy="1424.6" r="6.35"/>
<circle cx="895.2" cy="1431.1" r="6.35"/>
<circle cx="900.9" cy="1428.1" r="6.35"/>
<circle cx="905.7" cy="1403.6" r="6.35"/>
<circle cx="911.4" cy="1416.7" r="6.35"/>
<circle cx="916.2" cy="1434.3" r="6.35"/>
<circle cx="921.5" cy="1429.0" r="6.35"/>
<circle cx="926.4" cy="1420.6" r="6.35"/>
<circle cx="931.5" cy="1423.8" r="6.35"/>
<circle cx="936.5" cy="1403.9" r="6.35"/>
<circle cx="941.4" cy="1422.5" r="6.35"/>
<circle cx="946.4" cy="1434.0" r="6.35"/>
<circle cx="951.2" cy="1432.1" r="6.35"/>
<circle cx="956.5" cy="1436.9" r="6.35"/>
<circle cx="961.7" cy="1429.8" r="6.35"/>
<circle cx="966.4" cy="1404.9" r="6.35"/>
<circle cx="971.9" cy="1407.8" r="6.35"/>
<circle cx="976.9" cy="1409.8" r="6.35"/>
<circle cx="982.7" cy="1415.0" r="6.35"/>
<circle cx="987.7" cy="1442.1" r="6.35"/>
<circle cx="992.6" cy="1432.7" r="6.35"/>
<circle cx="996.8" cy="1422.0" r="6.35"/>
<circle cx="1002.3" cy="1416.7" r="6.35"/>
<circle cx="1007.3" cy="1426.8" r="6.35"/>
<circle cx="1012.3" cy="1434.0" r="6.35"/>
<circle cx="1017.8" cy="1430.1" r="6.35"/>
<circle cx="1022.5" cy="1412.8" r="6.35"/>
<circle cx="1038.3" cy="1424.6" r="6.35"/>
<circle cx="1043.0" cy="1439.9" r="6.35"/>
<circle cx="1048.2" cy="1436.0" r="6.35"/>
<circle cx="1053.5" cy="1426.8" r="6.35"/>
<circle cx="1058.5" cy="1411.7" r="6.35"/>
<circle cx="1063.4" cy="1440.6" r="6.35"/>
<circle cx="1068.7" cy="1442.9" r="6.35"/>
<circle cx="1073.5" cy="1423.5" r="6.35"/>
<circle cx="1078.4" cy="1401.9" r="6.35"/>
<circle cx="1083.6" cy="1412.0" r="6.35"/>
<circle cx="1088.3" cy="1435.1" r="6.35"/>
<circle cx="1093.2" cy="1435.1" r="6.35"/>
<circle cx="1099.1" cy="1430.1" r="6.35"/>
<circle cx="1104.3" cy="1438.0" r="6.35"/>
<circle cx="1109.3" cy="1435.3" r="6.35"/>
<circle cx="1113.8" cy="1422.5" r="6.35"/>
<circle cx="1119.4" cy="1430.4" r="6.35"/>
<circle cx="1124.7" cy="1416.3" r="6.35"/>
<circle cx="1129.6" cy="1424.8" r="6.35"/>
<circle cx="1134.5" cy="1402.6" r="6.35"/>
<circle cx="1138.9" cy="1415.0" r="6.35"/>
<circle cx="1144.2" cy="1411.7" r="6.35"/>
<circle cx="1149.4" cy="1417.0" r="6.35"/>
<circle cx="1154.5" cy="1422.9" r="6.35"/>
<circle cx="1160.2" cy="1422.9" r="6.35"/>
<circle cx="1165.1" cy="1422.2" r="6.35"/>
<circle cx="1170.0" cy="1426.8" r="6.35"/>
<circle cx="1175.2" cy="1450.8" r="6.35"/>
<circle cx="1180.5" cy="1408.8" r="6.35"/>
<circle cx="1185.3" cy="1423.8" r="6.35"/>
<circle cx="1190.3" cy="1428.5" r="6.35"/>
<circle cx="1195.3" cy="1436.4" r="6.35"/>
<circle cx="1200.4" cy="1442.9" r="6.35"/>
<circle cx="1205.0" cy="1427.2" r="6.35"/>
<circle cx="1210.6" cy="1421.6" r="6.35"/>
<circle cx="1215.2" cy="1434.0" r="6.35"/>
<circle cx="1221.4" cy="1436.9" r="6.35"/>
<circle cx="1226.4" cy="1425.9" r="6.35"/>
<circle cx="1231.6" cy="1422.9" r="6.35"/>
<circle cx="1241.4" cy="1411.7" r="6.35"/>
<circle cx="1251.5" cy="1422.9" r="6.35"/>
<circle cx="1276.6" cy="1419.9" r="6.35"/>
<circle cx="1282.1" cy="1405.8" r="6.35"/>
<circle cx="1287.3" cy="1404.9" r="6.35"/>
<circle cx="1297.5" cy="1416.3" r="6.35"/>
<circle cx="1302.4" cy="1422.2" r="6.35"/>
<circle cx="1307.6" cy="1396.7" r="6.35"/>
<circle cx="1312.2" cy="1418.9" r="6.35"/>
<circle cx="1317.2" cy="1417.0" r="6.35"/>
<circle cx="1322.1" cy="1418.0" r="6.35"/>
<circle cx="1327.3" cy="1404.9" r="6.35"/>
<circle cx="1332.2" cy="1426.8" r="6.35"/>
<circle cx="1337.1" cy="1425.5" r="6.35"/>
<circle cx="1342.4" cy="1420.6" r="6.35"/>
<circle cx="1348.3" cy="1434.3" r="6.35"/>
<circle cx="1353.5" cy="1427.5" r="6.35"/>
<circle cx="1358.4" cy="1417.6" r="6.35"/>
<circle cx="1363.4" cy="1436.0" r="6.35"/>
<circle cx="1368.6" cy="1425.9" r="6.35"/>
<circle cx="1373.2" cy="1409.1" r="6.35"/>
<circle cx="1378.2" cy="1402.8" r="6.35"/>
<circle cx="1383.7" cy="1405.8" r="6.35"/>
<circle cx="1388.3" cy="1423.8" r="6.35"/>
<circle cx="1393.3" cy="1428.8" r="6.35"/>
<circle cx="1398.5" cy="1421.2" r="6.35"/>
<circle cx="1403.6" cy="1414.4" r="6.35"/>
<circle cx="1409.5" cy="1399.7" r="6.35"/>
<circle cx="1414.2" cy="1430.1" r="6.35"/>
<circle cx="1418.9" cy="1424.6" r="6.35"/>
<circle cx="1424.4" cy="1430.1" r="6.35"/>
<circle cx="1429.4" cy="1422.9" r="6.35"/>
<circle cx="1434.3" cy="1415.7" r="6.35"/>
<circle cx="1439.5" cy="1412.0" r="6.35"/>
<circle cx="1444.5" cy="1412.8" r="6.35"/>
<circle cx="1449.1" cy="1425.5" r="6.35"/>
<circle cx="1454.3" cy="1426.8" r="6.35"/>
<circle cx="1459.6" cy="1426.2" r="6.35"/>
<circle cx="1464.4" cy="1424.8" r="6.35"/>
<circle cx="1470.3" cy="1444.2" r="6.35"/>
<circle cx="1475.2" cy="1440.8" r="6.35"/>
<circle cx="1480.5" cy="1456.0" r="6.35"/>
<circle cx="1485.4" cy="1436.0" r="6.35"/>
<circle cx="1490.2" cy="1398.0" r="6.35"/>
<circle cx="1495.2" cy="1422.2" r="6.35"/>
<circle cx="1500.5" cy="1431.4" r="6.35"/>
<circle cx="1505.4" cy="1428.8" r="6.35"/>
<circle cx="1510.3" cy="1431.1" r="6.35"/>
<circle cx="1515.5" cy="1427.2" r="6.35"/>
<circle cx="1520.5" cy="1416.7" r="6.35"/>
<circle cx="1525.4" cy="1427.5" r="6.35"/>
<circle cx="1531.3" cy="1435.3" r="6.35"/>
<circle cx="1536.5" cy="1434.0" r="6.35"/>
<circle cx="1566.0" cy="1434.0" r="6.35"/>
<circle cx="1571.5" cy="1434.0" r="6.35"/>
<circle cx="1576.2" cy="1431.4" r="6.35"/>
<circle cx="1581.5" cy="1438.2" r="6.35"/>
<circle cx="1586.3" cy="1430.1" r="6.35"/>
<circle cx="1592.2" cy="1425.5" r="6.35"/>
<circle cx="1597.2" cy="1428.8" r="6.35"/>
<circle cx="1602.5" cy="1425.5" r="6.35"/>
<circle cx="1607.3" cy="1438.2" r="6.35"/>
<circle cx="1612.6" cy="1420.3" r="6.35"/>
<circle cx="1617.5" cy="1434.0" r="6.35"/>
<circle cx="1622.4" cy="1424.6" r="6.35"/>
<circle cx="1627.6" cy="1457.0" r="6.35"/>
<circle cx="1632.5" cy="1439.0" r="6.35"/>
<circle cx="1637.5" cy="1419.6" r="6.35"/>
<circle cx="1642.7" cy="1432.1" r="6.35"/>
<circle cx="1647.6" cy="1439.9" r="6.35"/>
<circle cx="1652.5" cy="1439.9" r="6.35"/>
<circle cx="1658.4" cy="1442.1" r="6.35"/>
<circle cx="1663.0" cy="1428.5" r="6.35"/>
<circle cx="1668.3" cy="1430.7" r="6.35"/>
<circle cx="1673.5" cy="1441.9" r="6.35"/>
<circle cx="1678.1" cy="1446.5" r="6.35"/>
<circle cx="1683.6" cy="1438.6" r="6.35"/>
<circle cx="1688.6" cy="1449.1" r="6.35"/>
<circle cx="1703.5" cy="1413.7" r="6.35"/>
<circle cx="1708.4" cy="1425.9" r="6.35"/>
<circle cx="1713.3" cy="1442.9" r="6.35"/>
<circle cx="1718.8" cy="1428.8" r="6.35"/>
<circle cx="1724.3" cy="1436.9" r="6.35"/>
<circle cx="1729.1" cy="1424.8" r="6.35"/>
<circle cx="1734.3" cy="1413.7" r="6.35"/>
<circle cx="1739.6" cy="1425.1" r="6.35"/>
<circle cx="1749.0" cy="1451.1" r="6.35"/>
<circle cx="1754.2" cy="1448.4" r="6.35"/>
<circle cx="1759.2" cy="1430.7" r="6.35"/>
<circle cx="1764.1" cy="1433.8" r="6.35"/>
<circle cx="1769.3" cy="1439.9" r="6.35"/>
<circle cx="1774.3" cy="1452.1" r="6.35"/>
<circle cx="1780.5" cy="1439.5" r="6.35"/>
<circle cx="1785.7" cy="1452.1" r="6.35"/>
<circle cx="1896.1" cy="1426.8" r="6.35"/>
<circle cx="1902.1" cy="1437.3" r="6.35"/>
<circle cx="1907.4" cy="1424.6" r="6.35"/>
<circle cx="1912.2" cy="1433.0" r="6.35"/>
<circle cx="1917.5" cy="1432.1" r="6.35"/>
<circle cx="1922.3" cy="1433.0" r="6.35"/>
<circle cx="1927.3" cy="1427.7" r="6.35"/>
<circle cx="1932.3" cy="1431.1" r="6.35"/>
<circle cx="1937.5" cy="1425.5" r="6.35"/>
<circle cx="1942.6" cy="1407.5" r="6.35"/>
<circle cx="1947.2" cy="1432.1" r="6.35"/>
<circle cx="1952.6" cy="1421.6" r="6.35"/>
<circle cx="1957.5" cy="1430.4" r="6.35"/>
<circle cx="1968.6" cy="1423.8" r="6.35"/>
<circle cx="1973.4" cy="1406.8" r="6.35"/>
<circle cx="1978.4" cy="1417.0" r="6.35"/>
<circle cx="1983.3" cy="1420.9" r="6.35"/>
<circle cx="1988.4" cy="1423.8" r="6.35"/>
<circle cx="1993.4" cy="1422.9" r="6.35"/>
<circle cx="1998.4" cy="1430.1" r="6.35"/>
</g>
<g stroke="#000" stroke-width="2.08" stroke-dasharray="4.167 12.500" fill="none">
<line x1="300" y1="1619.9" x2="300" y2="1196.3"/>
<line x1="456.9" y1="1619.9" x2="456.9" y2="1196.3"/>
<line x1="609.0" y1="1619.9" x2="609.0" y2="1196.3"/>
<line x1="766.0" y1="1619.9" x2="766.0" y2="1196.3"/>
<line x1="922.9" y1="1619.9" x2="922.9" y2="1196.3"/>
<line x1="1075.0" y1="1619.9" x2="1075.0" y2="1196.3"/>
<line x1="1231.9" y1="1619.9" x2="1231.9" y2="1196.3"/>
<line x1="1384.0" y1="1619.9" x2="1384.0" y2="1196.3"/>
<line x1="1546.0" y1="1619.9" x2="1546.0" y2="1196.3"/>
<line x1="1702.8" y1="1619.9" x2="1702.8" y2="1196.3"/>
<line x1="1850.0" y1="1619.9" x2="1850.0" y2="1196.3"/>
<line x1="2007.0" y1="1619.9" x2="2007.0" y2="1196.3"/>
<line x1="2160" y1="1619.9" x2="2160" y2="1196.3"/>
<line x1="300.0" y1="1204.76" x2="2160.0" y2="1204.76"/>
<line x1="300.0" y1="1259.12" x2="2160.0" y2="1259.12"/>
<line x1="300.0" y1="1313.48" x2="2160.0" y2="1313.48"/>
<line x1="300.0" y1="1367.84" x2="2160.0" y2="1367.84"/>
<line x1="300.0" y1="1422.20" x2="2160.0" y2="1422.20"/>
<line x1="300.0" y1="1476.56" x2="2160.0" y2="1476.56"/>
<line x1="300.0" y1="1530.92" x2="2160.0" y2="1530.92"/>
<line x1="300.0" y1="1585.28" x2="2160.0" y2="1585.28"/>
</g>
</g>
<g stroke="#000" stroke-width="2.08">
<line x1="300" y1="1619.9" x2="300" y2="1603.23"/>
<line x1="300" y1="1196.3" x2="300" y2="1212.97"/>
<line x1="456.9" y1="1619.9" x2="456.9" y2="1603.23"/>
<line x1="456.9" y1="1196.3" x2="456.9" y2="1212.97"/>
<line x1="609.0" y1="1619.9" x2="609.0" y2="1603.23"/>
<line x1="609.0" y1="1196.3" x2="609.0" y2="1212.97"/>
<line x1="766.1" y1="1619.9" x2="766.1" y2="1603.23"/>
<line x1="766.1" y1="1196.3" x2="766.1" y2="1212.97"/>
<line x1="922.8" y1="1619.9" x2="922.8" y2="1603.23"/>
<line x1="922.8" y1="1196.3" x2="922.8" y2="1212.97"/>
<line x1="1074.8" y1="1619.9" x2="1074.8" y2="1603.23"/>
<line x1="1074.8" y1="1196.3" x2="1074.8" y2="1212.97"/>
<line x1="1232.6" y1="1619.9" x2="1232.6" y2="1603.23"/>
<line x1="1232.6" y1="1196.3" x2="1232.6" y2="1212.97"/>
<line x1="1384.8" y1="1619.9" x2="1384.8" y2="1603.23"/>
<line x1="1384.8" y1="1196.3" x2="1384.8" y2="1212.97"/>
<line x1="1546.4" y1="1619.9" x2="1546.4" y2="1603.23"/>
<line x1="1546.4" y1="1196.3" x2="1546.4" y2="1212.97"/>
<line x1="1703.0" y1="1619.9" x2="1703.0" y2="1603.23"/>
<line x1="1703.0" y1="1196.3" x2="1703.0" y2="1212.97"/>
<line x1="1850.2" y1="1619.9" x2="1850.2" y2="1603.23"/>
<line x1="1850.2" y1="1196.3" x2="1850.2" y2="1212.97"/>
<line x1="2007.3" y1="1619.9" x2="2007.3" y2="1603.23"/>
<line x1="2007.3" y1="1196.3" x2="2007.3" y2="1212.97"/>
<line x1="2160" y1="1619.9" x2="2160" y2="1603.23"/>
<line x1="2160" y1="1196.3" x2="2160" y2="1212.97"/>
<line x1="300.0" y1="1204.86" x2="316.67" y2="1204.86"/>
<line x1="2160.0" y1="1204.86" x2="2143.33" y2="1204.86"/>
<line x1="300.0" y1="1259.22" x2="316.67" y2="1259.22"/>
<line x1="2160.0" y1="1259.22" x2="2143.33" y2="1259.22"/>
<line x1="300.0" y1="1313.58" x2="316.67" y2="1313.58"/>
<line x1="2160.0" y1="1313.58" x2="2143.33" y2="1313.58"/>
<line x1="300.0" y1="1367.94" x2="316.67" y2="1367.94"/>
<line x1="2160.0" y1="1367.94" x2="2143.33" y2="1367.94"/>
<line x1="300.0" y1="1422.30" x2="316.67" y2="1422.30"/>
<line x1="2160.0" y1="1422.30" x2="2143.33" y2="1422.30"/>
<line x1="300.0" y1="1476.66" x2="316.67" y2="1476.66"/>
<line x1="2160.0" y1="1476.66" x2="2143.33" y2="1476.66"/>
<line x1="300.0" y1="1531.02" x2="316.67" y2="1531.02"/>
<line x1="2160.0" y1="1531.02" x2="2143.33" y2="1531.02"/>
<line x1="300.0" y1="1585.38" x2="316.67" y2="1585.38"/>
<line x1="2160.0" y1="1585.38" x2="2143.33" y2="1585.38"/>
</g>
<rect x="300.0" y="1196.3" width="1860.0" height="423.60" fill="none" stroke="#000" stroke-width="4.17"/>
<g font-size="24.4" letter-spacing="0.45" text-anchor="middle" fill="#000">
<text x="300.25" y="1654.1">05</text>
<text x="457.15" y="1654.1">06</text>
<text x="609.25" y="1654.1">07</text>
<text x="766.35" y="1654.1">08</text>
<text x="923.05" y="1654.1">09</text>
<text x="1075.05" y="1654.1">10</text>
<text x="1232.85" y="1654.1">11</text>
<text x="1385.05" y="1654.1">12</text>
<text x="1546.65" y="1654.1">01/2026</text>
<text x="1703.25" y="1654.1">02</text>
<text x="1850.45" y="1654.1">03</text>
<text x="2007.55" y="1654.1">04</text>
<text x="2160.25" y="1654.1">05</text>
</g>
<g font-size="28" text-anchor="end" fill="#000" stroke="#000" stroke-width="0.3">
<text x="283.5" y="1215.1">80</text>
<text x="283.5" y="1269.4">60</text>
<text x="283.5" y="1323.8">40</text>
<text x="283.5" y="1378.1">20</text>
<text x="285.2" y="1432.5">0</text>
<text x="283.5" y="1486.9">−20</text>
<text x="283.5" y="1541.2">−40</text>
<text x="283.5" y="1595.6">−60</text>
</g>
<text font-size="37.5" text-anchor="middle" transform="translate(197.0,1407.1) rotate(-90)">Delta GPS-height(mm)</text>
<rect x="316.0" y="1212.3" width="364" height="52.8" fill="#fff" stroke="#000" stroke-width="4.17" stroke-linejoin="round"/>
<g fill="#f00" stroke="#000" stroke-width="2.20"><circle cx="339.4" cy="1240.6" r="6.35"/><circle cx="386.6" cy="1240.6" r="6.35"/></g>
<text font-size="33.5" x="422.9" y="1252.3">Difference of h</text>
</g>
<text font-size="60" text-anchor="middle" x="1230.5" y="159">CLAC, Difference between Reg13 and PPP</text>
<text font-size="37.6" text-anchor="middle" x="1231.2" y="1706.3">Recent 1 Year (grid: 1 Month)</text>
<text font-size="24.7" text-anchor="end" fill="#f00" x="2008.5" y="1268.8">DoY 092</text>
</svg>
</body></html>
